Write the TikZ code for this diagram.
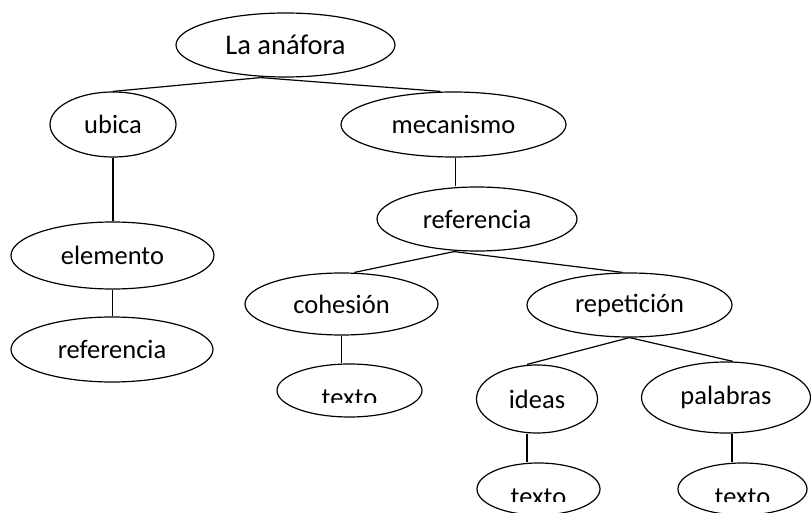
\documentclass[tikz,border=0pt]{standalone}
\usepackage{fontspec}
\setmainfont{Carlito}
\usetikzlibrary{shapes.geometric}

\tikzset{
  nodo/.style={draw, ellipse, line width=1.2pt, inner sep=0pt,
    font=\fontsize{26.5}{30}\selectfont},
  rama/.style={line width=1.2pt}
}

\begin{document}
\begin{tikzpicture}[x=1pt,y=-1pt]
        \clip (0,0) rectangle (811,513) ;
        % nivel 1 y 2
        \node[nodo,minimum width=219,minimum height=64,font=\fontsize{28.5}{32}\selectfont] (anafora) at (285.5,45) {La anáfora} ;
        \node[nodo,minimum width=126,minimum height=65] (ubica) at (113,124.5) {ubica} ;
        \node[nodo,minimum width=225,minimum height=65] (mecanismo) at (453.5,124.5) {mecanismo} ;
        % rama izquierda
        \node[nodo,minimum width=203,minimum height=67] (elemento) at (112.5,255.5) {elemento} ;
        \node[nodo,minimum width=202,minimum height=65] (referencia1) at (112,349.5) {referencia} ;
        % rama derecha
        \node[nodo,minimum width=200,minimum height=64] (referencia2) at (477,219) {referencia} ;
        \node[nodo,minimum width=193,minimum height=62] (cohesion) at (341.5,304) {cohesión} ;
        \node[nodo,minimum width=205,minimum height=64] (repeticion) at (629.5,305) {repetición} ;
        \node[nodo,minimum width=121,minimum height=68] (ideas) at (537,399) {ideas} ;
        \node[nodo,minimum width=169,minimum height=71] (palabras) at (726,397.5) {palabras} ;
        % hojas: el texto queda cortado por abajo
        \node[nodo,minimum width=145,minimum height=53] (texto1) at (349.5,390.5) {\phantom{texto}} ;
        \node[nodo,minimum width=123,minimum height=52] (texto2) at (538.5,489) {\phantom{texto}} ;
        \node[nodo,minimum width=129,minimum height=52] (texto3) at (742.5,489) {\phantom{texto}} ;
        \foreach \t/\c in {texto1/11.5,texto2/12,texto3/12}{
          \begin{scope}
            \clip ([yshift=-\c pt]\t.west) rectangle ([yshift=30pt]\t.east) ;
            \node[font=\fontsize{26.5}{30}\selectfont] at ([yshift=-8pt]\t.center) {texto} ;
          \end{scope}
        }
        % conectores
        \draw[rama] ([xshift=-25pt]anafora.south) -- (ubica.north) ;
        \draw[rama] ([xshift=-25pt]anafora.south) -- ([xshift=-13pt]mecanismo.north) ;
        \draw[rama] (ubica.south) -- (ubica.south |- elemento.north) ;
        \draw[rama] (elemento.south) -- (elemento.south |- referencia1.north) ;
        \draw[rama] ([xshift=2pt]mecanismo.south) -- ([xshift=2pt]mecanismo.south |- referencia2.north) ;
        \draw[rama] ([xshift=-23pt]referencia2.south) -- ([xshift=13pt]cohesion.north) ;
        \draw[rama] ([xshift=-23pt]referencia2.south) -- ([xshift=-7pt]repeticion.north) ;
        \draw[rama] (cohesion.south) -- (cohesion.south |- texto1.north) ;
        \draw[rama] (repeticion.south) -- ([xshift=-10pt]ideas.north) ;
        \draw[rama] (repeticion.south) -- ([xshift=7pt]palabras.north) ;
        \draw[rama] ([xshift=-10pt]ideas.south) -- ([xshift=-10pt]ideas.south |- texto2.north) ;
        \draw[rama] ([xshift=6pt]palabras.south) -- ([xshift=6pt]palabras.south |- texto3.north) ;
      \end{tikzpicture}
\end{document}
